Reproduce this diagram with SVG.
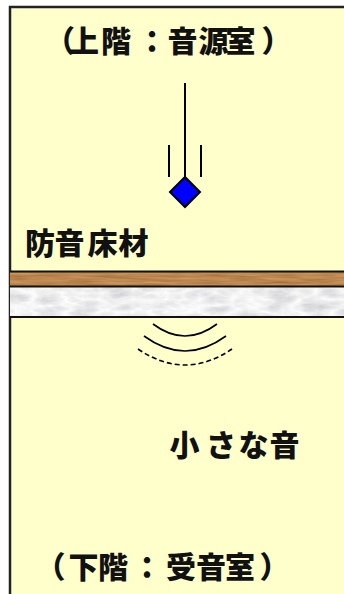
<svg xmlns="http://www.w3.org/2000/svg" width="344" height="594" viewBox="0 0 344 594">
  <style>
    .label { font-family: "Noto Sans CJK JP", "Noto Sans", sans-serif; font-weight: 900; font-size: 30px; fill: #111; }
    .line { stroke: #000; stroke-width: 2; fill: none; }
    .wave { stroke: #000; stroke-width: 1.6; fill: none; }
    .layer-edge { stroke: #111; stroke-width: 2; fill: none; }
  </style>
  <defs>
    <!-- wood grain: stretched noise mapped to brown tones -->
    <filter id="woodGrain" x="0" y="0" width="1" height="1" filterUnits="objectBoundingBox">
      <feTurbulence type="fractalNoise" baseFrequency="0.03 0.45" numOctaves="3" seed="7" result="noise"/>
      <feColorMatrix in="noise" type="matrix" values="0.36 0 0 0 0.32  0.22 0 0 0 0.13  0.10 0 0 0 0.03  0 0 0 0 1" result="wood"/>
      <feComposite in="wood" in2="SourceGraphic" operator="in"/>
    </filter>
    <!-- concrete slab: soft grey marbling -->
    <filter id="slabTexture" x="0" y="0" width="1" height="1" filterUnits="objectBoundingBox">
      <feTurbulence type="turbulence" baseFrequency="0.03 0.08" numOctaves="4" seed="3" result="noise"/>
      <feColorMatrix in="noise" type="matrix" values="-0.45 0 0 0 1.0  -0.45 0 0 0 1.0  -0.42 0 0 0 1.0  0 0 0 0 1" result="grey"/>
      <feGaussianBlur in="grey" stdDeviation="0.6" result="soft"/>
      <feComposite in="soft" in2="SourceGraphic" operator="in"/>
    </filter>
  </defs>

  <rect width="344" height="594" fill="#ffffff"/>

  <!-- room section -->
  <g id="room">
    <rect x="10" y="7" width="340" height="600" fill="#ffffcc" stroke="#222" stroke-width="2.5"/>
  </g>

  <g id="upper-label">
    <text class="label" y="52" x="45 69 101 137 167.5 198.5 225.5 261.5">（上階：音源室）</text>
  </g>

  <!-- impact source falling onto the floor -->
  <g id="impact-source">
    <line class="line" x1="185" y1="83" x2="185" y2="178"/>
    <line class="line" x1="169" y1="145" x2="169" y2="177"/>
    <line class="line" x1="201" y1="145" x2="201" y2="177"/>
    <polygon points="185,177 200,192 185,207 170,192" fill="#0000ff" stroke="#000" stroke-width="2"/>
  </g>

  <g id="floor-label">
    <text class="label" y="254" x="25 54.5 87.5 118.5">防音床材</text>
  </g>

  <!-- floor build-up: finish layer over concrete slab -->
  <g id="floor">
    <rect x="10" y="272" width="334" height="14" fill="#8f5226"/>
    <rect x="10" y="272" width="334" height="14" fill="#8f5226" filter="url(#woodGrain)"/>
    <rect x="10" y="287" width="334" height="30" fill="#eeeeee"/>
    <rect x="10" y="287" width="334" height="30" fill="#eeeeee" filter="url(#slabTexture)"/>
    <line class="layer-edge" x1="10" y1="271.5" x2="344" y2="271.5"/>
    <line class="layer-edge" x1="10" y1="286.5" x2="344" y2="286.5"/>
    <line class="layer-edge" x1="10" y1="317" x2="344" y2="317"/>
  </g>

  <!-- sound radiating below the slab -->
  <g id="connectors">
    <path class="wave" d="M153,324 Q185,348 217,324"/>
    <path class="wave" d="M144,336 Q185,366 226,336"/>
    <path class="wave" d="M138,349 Q185,381 232,349" stroke-width="2" stroke-dasharray="5,3"/>
  </g>

  <g id="sound-label">
    <text class="label" y="456" x="169.5 206 238.5 269.5">小さな音</text>
  </g>

  <g id="lower-label">
    <text class="label" y="578" x="35.5 68.5 98 132 166 196 225 259.5">（下階：受音室）</text>
  </g>
</svg>
